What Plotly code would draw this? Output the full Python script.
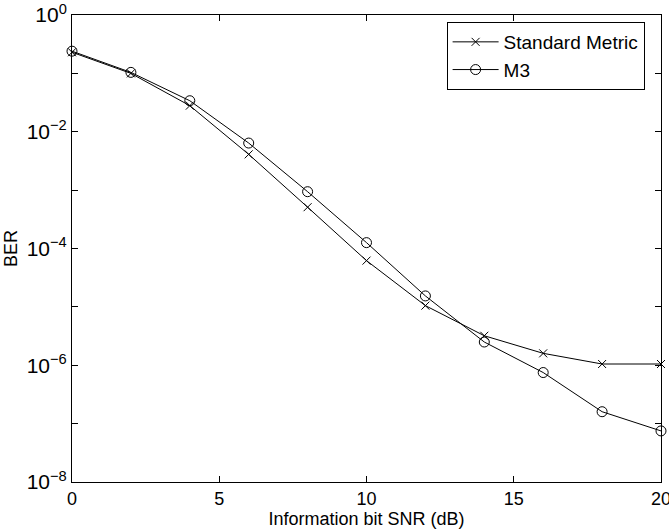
import plotly.graph_objects as go

snr = [0, 2, 4, 6, 8, 10, 12, 14, 16, 18, 20]
ber_standard = [0.23, 0.10, 0.028, 0.0041, 5.1e-4, 6.2e-5, 1.05e-5, 3.2e-6, 1.6e-6, 1.05e-6, 1.05e-6]
ber_m3 = [0.24, 0.104, 0.034, 0.0064, 9.4e-4, 1.26e-4, 1.54e-5, 2.5e-6, 7.5e-7, 1.6e-7, 7.5e-8]

x_ticks = [0, 5, 10, 15, 20]
y_exponents = list(range(0, -9, -1))
y_tickvals = [10.0 ** e for e in y_exponents]
y_ticktext = [("10<sup>%s</sup>" % str(e).replace("-", "\u2212") if e % 2 == 0 else "") for e in y_exponents]

FONT = "Liberation Sans, Arial, sans-serif"

fig = go.Figure()
fig.add_trace(go.Scatter(
    x=snr, y=ber_standard, name="Standard Metric", mode="lines+markers",
    line=dict(color="black", width=1),
    marker=dict(symbol="x-thin-open", size=8, color="black", line=dict(color="black", width=1)),
    cliponaxis=False,
))
fig.add_trace(go.Scatter(
    x=snr, y=ber_m3, name="M3", mode="lines+markers",
    line=dict(color="black", width=1),
    marker=dict(symbol="circle-open", size=10, color="black", line=dict(color="black", width=1)),
    cliponaxis=False,
))

fig.update_layout(
    width=669, height=531,
    margin=dict(l=72, r=8, t=15, b=49, autoexpand=False),
    paper_bgcolor="white", plot_bgcolor="white",
    font=dict(family=FONT, color="black", size=17),
    showlegend=True,
    legend=dict(
        x=0.636, y=0.985, xanchor="left", yanchor="top",
        bgcolor="white", bordercolor="black", borderwidth=1,
        font=dict(size=19, family=FONT, color="black"),
        tracegroupgap=0, itemwidth=46,
    ),
    xaxis=dict(
        range=[0, 20], tickmode="array", tickvals=x_ticks, automargin=False,
        ticks="inside", ticklen=6, tickcolor="black", tickwidth=1,
        showline=True, linecolor="black", linewidth=1, mirror="ticks",
        showgrid=False, zeroline=False,
        tickfont=dict(size=18), ticklabeloverflow="allow",
        title=dict(text="Information bit SNR (dB)", font=dict(size=18), standoff=2),
    ),
    yaxis=dict(
        type="log", range=[-8, 0], tickmode="array", automargin=False,
        tickvals=y_tickvals, ticktext=y_ticktext,
        ticks="inside", ticklen=6, tickcolor="black", tickwidth=1,
        showline=True, linecolor="black", linewidth=1, mirror="ticks",
        showgrid=False, zeroline=False,
        tickfont=dict(size=21), ticklabeloverflow="allow",
        title=dict(text="BER", font=dict(size=18), standoff=4),
    ),
)

fig.write_html(
    "out.html",
    config={"displayModeBar": False},
    post_script="document.body.style.margin='0';document.body.style.padding='0';document.body.style.overflow='hidden';",
)
